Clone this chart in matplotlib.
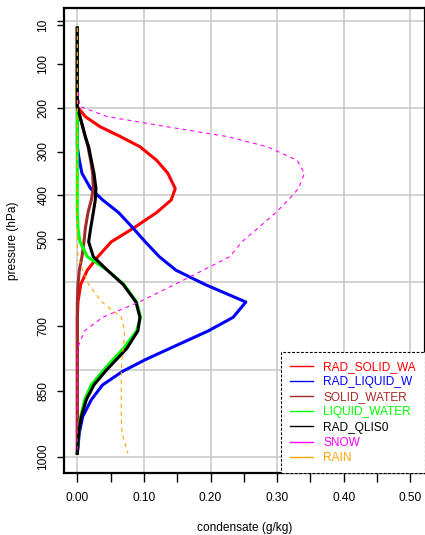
import numpy as np
import matplotlib
matplotlib.use("Agg")
import matplotlib.pyplot as plt

plt.rcParams['font.family'] = ['Liberation Sans', 'DejaVu Sans']

# pressure levels (hPa), shared by all profiles
pressure = [17, 50, 100, 150, 197, 220, 243, 266, 289, 320, 350, 385, 411, 440,
            476, 507, 541, 572, 605, 645, 680, 711, 752, 778, 804, 835, 869,
            908, 945, 992]

# condensate profiles (g/kg)
rad_solid_wa = [0, 0, 0, 0, 0, 0.012, 0.034, 0.065, 0.094, 0.119, 0.136, 0.147,
                0.141, 0.119, 0.084, 0.051, 0.031, 0.015, 0.005, 0.001, 0, 0,
                0, 0, 0, 0, 0, 0, 0, 0]
rad_liquid_w = [0, 0, 0, 0, 0, 0, 0, 0, 0, 0.003, 0.007, 0.020, 0.038, 0.062,
                0.084, 0.102, 0.123, 0.148, 0.192, 0.253, 0.234, 0.197, 0.138,
                0.101, 0.068, 0.038, 0.021, 0.008, 0.003, 0]
solid_water = [0, 0, 0, 0, 0, 0.004, 0.008, 0.012, 0.016, 0.020, 0.023, 0.024,
               0.021, 0.016, 0.012, 0.010, 0.007, 0.003, 0.001, 0, 0, 0, 0,
               0, 0, 0, 0, 0, 0, 0]
liquid_water = [0, 0, 0, 0, 0, 0, 0, 0, 0, 0, 0, 0, 0, 0, 0.001, 0.004, 0.015,
                0.045, 0.070, 0.089, 0.095, 0.089, 0.069, 0.053, 0.038, 0.021,
                0.011, 0.005, 0.002, 0]
rad_qlis0 = [0, 0, 0, 0, 0, 0.004, 0.008, 0.012, 0.017, 0.021, 0.025, 0.028,
             0.027, 0.024, 0.020, 0.017, 0.024, 0.045, 0.069, 0.088, 0.094,
             0.091, 0.074, 0.058, 0.042, 0.025, 0.0135, 0.006, 0.002, 0]
snow = [0, 0, 0, 0, 0.004, 0.045, 0.134, 0.226, 0.285, 0.330, 0.341, 0.332,
        0.317, 0.298, 0.271, 0.247, 0.229, 0.189, 0.146, 0.093, 0.038, 0.011,
        0, 0, 0, 0, 0, 0, 0, 0]
rain = [0, 0, 0, 0, 0, 0, 0, 0, 0, 0, 0, 0, 0, 0, 0, 0, 0.001, 0.008, 0.017,
        0.037, 0.066, 0.071, 0.069, 0.067, 0.066, 0.066, 0.066, 0.066, 0.067,
        0.076]

labels = ["RAD_SOLID_WA", "RAD_LIQUID_W", "SOLID_WATER", "LIQUID_WATER",
          "RAD_QLIS0", "SNOW", "RAIN"]
colors = ["#ff0000", "#0000ff", "#a52a2a", "#00ff00", "#000000", "#ff00ff",
          "#ffa500"]

ytick_vals = [10, 100, 200, 300, 400, 500, 700, 850, 1000]
xtick_vals = np.arange(0, 0.501, 0.05)

fig = plt.figure(figsize=(4.25, 5.35), dpi=100)
ax = fig.add_axes([64 / 425, 62 / 535, 361 / 425, 465 / 535])

# grid
for gx in np.arange(0, 0.51, 0.1):
    ax.axvline(gx, color="#c8c8c8", lw=1.1, zorder=0)
for gy in range(0, 1001, 200):
    ax.axhline(gy, color="#c8c8c8", lw=1.1, zorder=0)

series = [rad_solid_wa, rad_liquid_w, solid_water, liquid_water, rad_qlis0,
          snow, rain]
for vals, lab, col in zip(series, labels, colors):
    if lab in ("SNOW", "RAIN"):
        ax.plot(vals, pressure, color=col, lw=0.8, ls=(0, (3.6, 3.6)), zorder=3)
    else:
        ax.plot(vals, pressure, color=col, lw=2.2, zorder=2)

ax.set_xlim(-0.02, 0.522)
ax.set_ylim(1037, -29)

ax.set_xticks(xtick_vals)
ax.set_xticklabels(["%.2f" % v if i % 2 == 0 else "" for i, v in enumerate(xtick_vals)])
ax.set_yticks([0] + ytick_vals)
ax.set_yticklabels([""] + [str(v) for v in ytick_vals], rotation=90, va="center")
ax.tick_params(axis="x", length=6.5, width=1, pad=7, labelsize=8.6)
ax.tick_params(axis="y", length=5, width=1, pad=5.5, labelsize=8.6)

for s in ax.spines.values():
    s.set_linewidth(1.6)

ax.set_xlabel("condensate (g/kg)", fontsize=8.6, labelpad=13)
ax.set_ylabel("pressure (hPa)", fontsize=8.6, labelpad=13)

handles = [plt.Line2D([], [], color=c, lw=1) for c in colors]
leg = ax.legend(handles, labels, loc="lower right", bbox_to_anchor=(1.0, 0.0),
                borderaxespad=0, fontsize=8.6, frameon=True, fancybox=False,
                handlelength=1.9, handletextpad=0.9, labelspacing=0.27,
                borderpad=0.75, labelcolor=colors)
frame = leg.get_frame()
frame.set_edgecolor("black")
frame.set_linestyle((0, (2.5, 1.5)))
frame.set_linewidth(0.8)
frame.set_facecolor("white")
frame.set_alpha(1)

fig.savefig("out.png", dpi=100)
